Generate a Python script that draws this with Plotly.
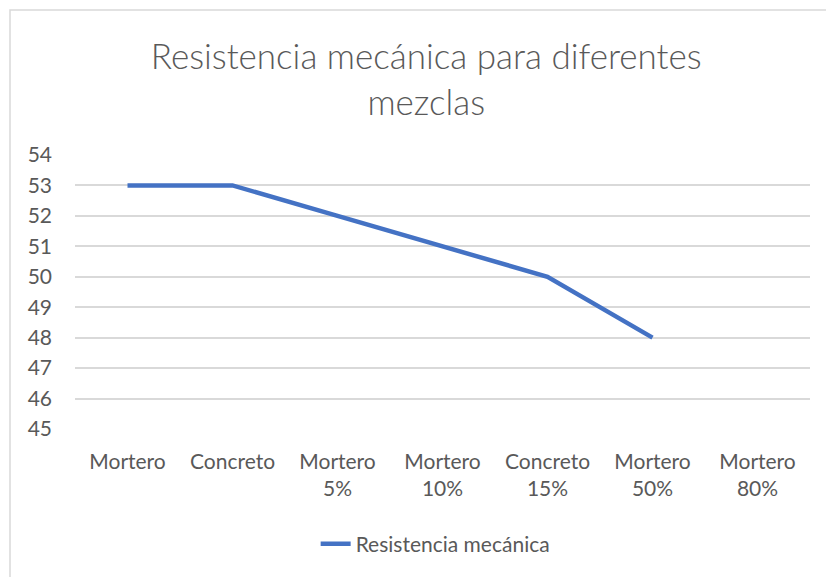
import plotly.graph_objects as go

categorias = ["Mortero", "Concreto", "Mortero<br>5%", "Mortero<br>10%",
              "Concreto<br>15%", "Mortero<br>50%", "Mortero<br>80%"]
resistencia = [53, 53, 52, 51, 50, 48, None]

gris = "#595959"
fuente = "Lato"

fig = go.Figure()
fig.add_trace(go.Scatter(x=categorias, y=resistencia, mode="lines",
                         line=dict(color="#4472C4", width=4.5),
                         name="Resistencia mecánica"))

fig.update_layout(
    width=826, height=577,
    margin=dict(l=75, r=16, t=155, b=148),
    paper_bgcolor="white", plot_bgcolor="white",
    title=dict(text="Resistencia mecánica para diferentes<br>mezclas",
               x=0.516, xanchor="center", y=1 - 69 / 577, yanchor="middle",
               font=dict(family=fuente, size=35, color=gris, weight=300)),
    font=dict(family=fuente, size=21, color=gris),
    showlegend=True,
    legend=dict(orientation="h", x=0.49, xanchor="center", y=-0.42, yanchor="middle",
                font=dict(size=21, color=gris)),
)
fig.update_xaxes(type="category", range=[-0.5, 6.5], showgrid=False, showline=False,
                 ticks="", ticklabelstandoff=18, automargin=False,
                 tickfont=dict(size=21, color=gris))
fig.update_yaxes(range=[45, 54], dtick=1, showgrid=True, gridcolor="#D9D9D9", gridwidth=1.5,
                 zeroline=False, showline=False, ticks="", ticklabelstandoff=22,
                 automargin=False, tickfont=dict(size=21, color=gris))

# borde del área del gráfico
fig.add_shape(type="rect", xref="paper", yref="paper",
              x0=(10 - 75) / 735, x1=(830 - 75) / 735,
              y0=(429 - 580) / 274, y1=(429 - 10) / 274,
              line=dict(color="#D9D9D9", width=1.5), layer="below")

fig.write_html("out.html", config={"displayModeBar": False},
               post_script="document.body.style.margin='0';")
